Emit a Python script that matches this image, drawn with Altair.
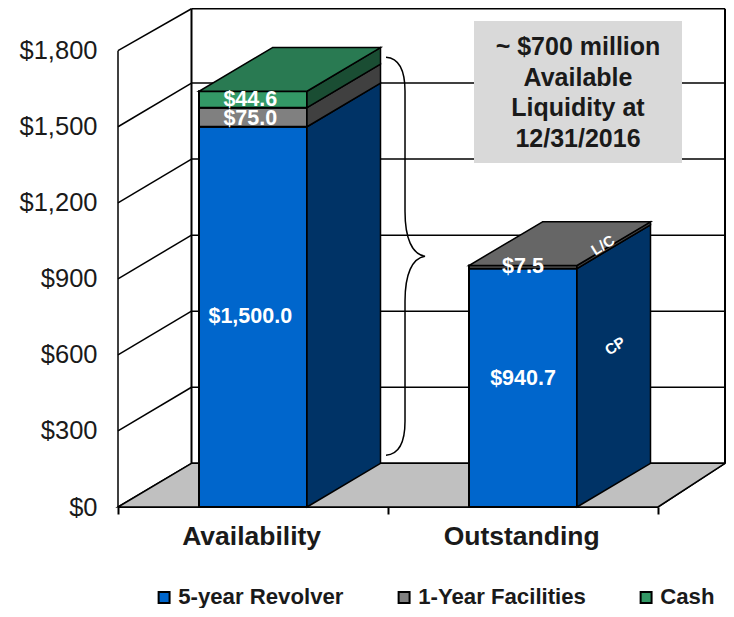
import altair as alt
import pandas as pd

FONT = "Liberation Sans"

# --- chart values ---
categories = ["Availability", "Outstanding"]
series = ["5-year Revolver", "1-Year Facilities", "Cash"]
front_colors = ["#0066cc", "#808080", "#339966"]
top_colors = ["#0052a3", "#666666", "#297a52"]
side_colors = ["#003366", "#404040", "#1a4d33"]
# heights as drawn in the picture (the Cash and L/C blocks are drawn taller than their printed labels)
availability_values = [1500.0, 75.0, 65.0]
outstanding_values = [940.7, 12.0, 0.0]
value_labels = ["$1,500.0", "$75.0", "$44.6", "$940.7", "$7.5"]
label_heights = [750, 1531, 1604, 505, 948]
y_ticks = [0, 300, 600, 900, 1200, 1500, 1800]

# --- projection of the oblique 3-D box, in data units ---
PLOT_W = 607
X_MAX = PLOT_W / 270
Y_MAX = 1968.4
DX = 73.5 / 270
DY = 172.4
WALL_TOP = 1965.5
HALF = 0.2
BRACE = "M-19,-199 C-6,-198 0,-185 0,-165 L0,-45 C0,-18 7,-2 20,0 C7,2 0,18 0,45 L0,165 C0,185 -6,198 -19,199"

x_scale = alt.Scale(domain=[0, X_MAX], nice=False, zero=False)
y_scale = alt.Scale(domain=[0, Y_MAX], nice=False, zero=False)
X = alt.X("x:Q", scale=x_scale,
          axis=alt.Axis(values=[0, 1, 2], labels=False, title=None, grid=False, domain=False,
                        tickColor="black", tickWidth=2, tickSize=7))
Y = alt.Y("y:Q", scale=y_scale,
          axis=alt.Axis(values=y_ticks, format="$,d", title=None, grid=False, domain=False, ticks=False,
                        labelFont=FONT, labelFontSize=25.5, labelColor="#1a1a1a", labelPadding=21))

# --- wall and grid lines ---
lines = []
for v in y_ticks:
    back = min(v + DY, WALL_TOP)
    lines.append(dict(x=0, y=v, x2=DX, y2=back, w=1.5))
    lines.append(dict(x=DX, y=back, x2=X_MAX, y2=back, w=1.5))
lines.append(dict(x=0, y=0, x2=0, y2=1800, w=1.5))
lines.append(dict(x=DX, y=0 + DY, x2=DX, y2=WALL_TOP, w=2))
lines.append(dict(x=X_MAX, y=DY, x2=X_MAX, y2=WALL_TOP, w=2))
lines.append(dict(x=0, y=0, x2=2, y2=0, w=2))
lines.append(dict(x=2, y=0, x2=X_MAX, y2=DY, w=1.5))
wall = alt.Chart(pd.DataFrame(lines)).mark_rule(color="black").encode(
    x=X, y=Y, x2="x2:Q", y2="y2:Q", strokeWidth=alt.StrokeWidth("w:Q", scale=None))

floor = alt.Chart(pd.DataFrame([dict(y=0, x=0, x2=2), dict(y=DY, x=DX, x2=X_MAX)])).mark_area(
    orient="horizontal", color="#c0c0c0", stroke="black", strokeWidth=1.5
).encode(x=X, x2="x2:Q", y=Y)

# --- bars ---
fronts, sides, tops = [], [], []
for i, (cat, vals) in enumerate(zip(categories, [availability_values, outstanding_values])):
    l, r = i + 0.5 - HALF, i + 0.5 + HALF
    base = 0.0
    for j, v in enumerate(vals):
        if v <= 0:
            continue
        top = base + v
        fronts.append(dict(x=l, x2=r, y=base, y2=top, series=series[j]))
        pid = f"{i}-{j}"
        sides.append(dict(pid=pid, fill=side_colors[j], x=r, y=base, y2=top))
        sides.append(dict(pid=pid, fill=side_colors[j], x=r + DX, y=base + DY, y2=top + DY))
        base = top
        last = j
    pid = f"{i}"
    tops.append(dict(pid=pid, fill=top_colors[last], y=base, x=l, x2=r))
    tops.append(dict(pid=pid, fill=top_colors[last], y=base + DY, x=l + DX, x2=r + DX))

front = alt.Chart(pd.DataFrame(fronts)).mark_rect(stroke="black", strokeWidth=2).encode(
    x=X, x2="x2:Q", y=Y, y2="y2:Q",
    color=alt.Color("series:N",
                    scale=alt.Scale(domain=series, range=front_colors),
                    legend=alt.Legend(orient="none", direction="horizontal", title=None,
                                      legendX=35, legendY=578, columnPadding=49,
                                      symbolType="square", symbolSize=120,
                                      symbolStrokeColor="black", symbolStrokeWidth=2, symbolOpacity=1,
                                      labelFont=FONT, labelFontSize=22.2, labelFontWeight="bold",
                                      labelColor="#1a1a1a", labelOffset=3,
                                      labelLimit=300)))
side = alt.Chart(pd.DataFrame(sides)).mark_area(orient="vertical", stroke="black", strokeWidth=1.5).encode(
    x=X, y=Y, y2="y2:Q",
    fill=alt.Fill("fill:N", scale=None), detail="pid:N")
top_face = alt.Chart(pd.DataFrame(tops)).mark_area(orient="horizontal", stroke="black", strokeWidth=1.5).encode(
    x=X, x2="x2:Q", y=Y,
    fill=alt.Fill("fill:N", scale=None), detail="pid:N")

# --- value labels and annotations ---
label_x = [0.49, 0.49, 0.49, 1.5, 1.5]
values_text = alt.Chart(pd.DataFrame(dict(x=label_x, y=label_heights, t=value_labels))).mark_text(
    font=FONT, fontSize=21.5, fontWeight="bold", color="white"
).encode(x=X, y=Y, text="t:N")

cat_text = alt.Chart(pd.DataFrame(dict(x=[0.495, 1.495], t=categories))).mark_text(
    font=FONT, fontSize=26.5, fontWeight="bold", color="#1a1a1a"
).encode(x=X, y=alt.value(529), text="t:N")

box = alt.Chart(pd.DataFrame([dict(k=1)])).mark_rect(color="#d9d9d9").encode(
    x=alt.value(356), x2=alt.value(564), y=alt.value(13), y2=alt.value(155))
box_text = alt.Chart(pd.DataFrame([dict(t="~ $700 million\nAvailable\nLiquidity at\n12/31/2016")])).mark_text(
    font=FONT, fontSize=25, fontWeight="bold", color="#1a1a1a", lineBreak="\n", lineHeight=30.5
).encode(x=alt.value(460), y=alt.value(39), text="t:N")

side_text = alt.Chart(pd.DataFrame(dict(x=[1.796, 1.841], y=[1033, 635], t=["L/C", "CP"]))).mark_text(
    font=FONT, fontSize=15, fontWeight="bold", color="white", angle=328
).encode(x=X, y=Y, text="t:N")

brace = alt.Chart(pd.DataFrame(dict(x=[1.063], y=[989.0]))).mark_point(
    shape=BRACE, size=4, filled=False, stroke="black", strokeWidth=1.5, opacity=1
).encode(x=X, y=Y)

chart = alt.layer(
    wall, floor, box, box_text, front, side, top_face, brace,
    values_text, side_text, cat_text
).properties(
    width=PLOT_W, height=499,
    autosize=alt.AutoSizeParams(type="none"),
    padding={"left": 110, "top": 0, "right": 1, "bottom": 101}
).configure_view(stroke=None)

chart.save("out.html", embed_options={"renderer": "svg", "actions": False})
